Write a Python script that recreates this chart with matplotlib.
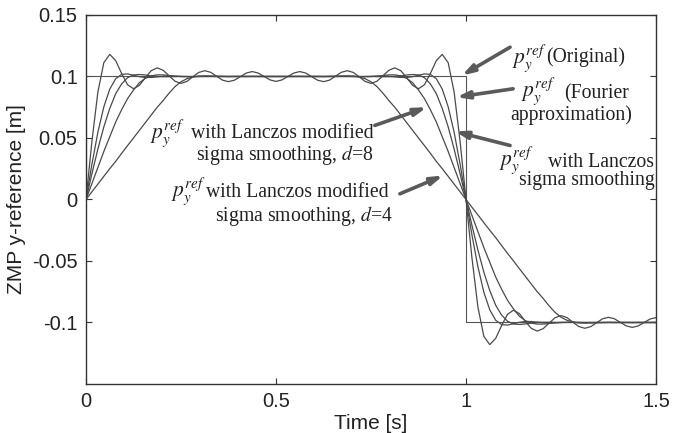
"""ZMP y-reference: square wave vs Fourier approximation and sigma-smoothed versions."""
import matplotlib
matplotlib.use("Agg")
import matplotlib.pyplot as plt
import numpy as np

plt.rcParams["font.family"] = ["Liberation Sans", "DejaVu Sans"]
plt.rcParams["mathtext.fontset"] = "stix"

# values for t = 0 .. 0.5 s in steps of 1/64 s;
# the plot is mirror-symmetric about t=0.5 and antisymmetric about t=1
t_step = 1 / 64
fourier_half = [0, .0474, .0873, .1112, .1180, .1129, .1024, .0933, .0900, .0928,
                .0991, .1048, .1070, .1050, .1005, .0961, .0944, .0960, .0998, .1033,
                .1047, .1034, .1002, .0970, .0958, .0970, .0999, .1028, .1040, .1028,
                .1000, .0972, .0960]
lanczos_half = [0, .0288, .0546, .0753, .0897, .0982, .1017, .1021, .1010, .0998,
                .0992, .0992, .0997, .1002, .1003, .1002, .1000, .0999, .0999, .1000,
                .1001, .1001, .1000, .1000, .0999, .1000, .1000, .1000, .1001, .1000,
                .1000, .1000, .1000]
middle_half = [0, .021, .041, .059, .074, .086, .094, .099, .1012, .1016,
               .1012, .1005, .1000, .0998, .0998, .0999, .1000, .1000, .1000, .1000,
               .1000, .1000, .1000, .1000, .1000, .1000, .1000, .1000, .1000, .1000,
               .1000, .1000, .1000]
d8_half = [0, .013, .026, .039, .051, .063, .073, .082, .089, .095,
           .0985, .1005, .1013, .1013, .1008, .1003, .1000, .0999, .0999, .1000,
           .1000, .1000, .1000, .1000, .1000, .1000, .1000, .1000, .1000, .1000,
           .1000, .1000, .1000]
d4_half = [0, .0063, .0125, .0188, .025, .031, .0375, .0438, .05, .0563,
           .0625, .0688, .075, .0805, .0865, .0918, .0957, .0982, .0996, .1003,
           .1005, .1004, .1002, .1001, .1000, .1000, .1000, .1000, .1000, .1000,
           .1000, .1000, .1000]

# original square reference
orig_t = [0, 0, 1, 1, 1.5]
orig_y = [0, 0.1, 0.1, -0.1, -0.1]


def full_curve(half):
    h = np.asarray(half)
    return np.concatenate([h, h[-2::-1], -h[1:]])


t = np.arange(3 * (len(fourier_half) - 1) + 1) * t_step

fig = plt.figure(figsize=(6.88, 4.33), dpi=100)
ax = fig.add_axes([0.125, 0.1132, 0.8285, 0.8522])

line_kw = dict(color="#4a4a4a", lw=0.9)
ax.plot(orig_t, orig_y, color="#555555", lw=0.8)
for half in (fourier_half, lanczos_half, middle_half, d8_half, d4_half):
    ax.plot(t, full_curve(half), **line_kw)

ax.set_xlim(0, 1.5)
ax.set_ylim(-0.15, 0.15)
ax.set_xticks([0, 0.5, 1, 1.5])
ax.set_xticklabels(["0", "0.5", "1", "1.5"])
ax.set_yticks([-0.1, -0.05, 0, 0.05, 0.1, 0.15])
ax.set_yticklabels(["-0.1", "-0.05", "0", "0.05", "0.1", "0.15"])
ax.tick_params(direction="in", top=True, right=True, length=4, width=0.8,
               labelsize=14.5, labelcolor="#222222", color="#333333", pad=6)
for s in ax.spines.values():
    s.set_linewidth(1.0)
    s.set_color("#333333")
ax.set_xlabel("Time [s]", fontsize=15, color="#222222", labelpad=2)
ax.set_ylabel("ZMP y-reference [m]", fontsize=15, color="#222222", labelpad=4)

serif = ["Liberation Serif", "DejaVu Serif"]
txt_kw = dict(fontsize=14.2, family=serif, color="#222222", va="baseline")
p_kw = dict(fontsize=15.5, color="#222222", va="baseline", ha="left")
P = r"$p_y^{ref}$"

# (Original)
ax.text(1.120, 0.1114, P, **p_kw)
ax.text(1.212, 0.1114, "(Original)", ha="left", **txt_kw)
# (Fourier approximation)
ax.text(1.145, 0.0845, P, **p_kw)
ax.text(1.257, 0.0821, "(Fourier", ha="left", **txt_kw)
ax.text(1.116, 0.0645, "approximation)", ha="left", **txt_kw)
# Lanczos sigma smoothing
ax.text(1.088, 0.0282, P, **p_kw)
ax.text(1.215, 0.0268, "with Lanczos", ha="left", **txt_kw)
ax.text(1.140, 0.0118, "sigma smoothing", ha="left", **txt_kw)
# modified, d=8
ax.text(0.168, 0.0500, P, **p_kw)
ax.text(0.757, 0.0496, "with Lanczos modified", ha="right", **txt_kw)
ax.text(0.757, 0.0317, "sigma smoothing, $d$=8", ha="right", **txt_kw)
# modified, d=4
ax.text(0.224, 0.0030, P, **p_kw)
ax.text(0.797, 0.0024, "with Lanczos modified", ha="right", **txt_kw)
ax.text(0.808, -0.0171, "sigma smoothing, $d$=4", ha="right", **txt_kw)

arrow_kw = dict(arrowstyle="-|>,head_length=0.7,head_width=0.22", lw=2.6,
                color="#5a5a5a", shrinkA=0, shrinkB=0)
arrows = [((1.116, 0.1238), (0.989, 0.1008)),
          ((1.124, 0.0900), (0.975, 0.0832)),
          ((1.116, 0.0439), (0.971, 0.0553)),
          ((0.760, 0.0602), (0.897, 0.0750)),
          ((0.826, 0.0046), (0.940, 0.0195))]
for tail, tip in arrows:
    ax.annotate("", xy=tip, xytext=tail, arrowprops=arrow_kw)

fig.savefig("out.png", dpi=100)
